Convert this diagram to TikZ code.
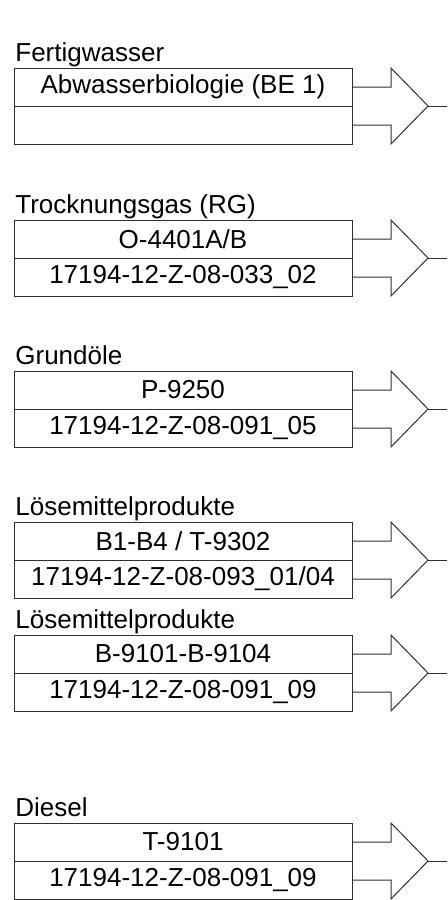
\documentclass[tikz,border=0pt]{standalone}
\usepackage{fontspec}
\setmainfont{Liberation Sans}
\usetikzlibrary{positioning}

\definecolor{linegray}{HTML}{303030}

\tikzset{
  feld/.style={draw=linegray, line width=0.5pt, minimum width=169pt, minimum height=19pt,
    inner sep=0pt, outer sep=0pt, font=\fontsize{13}{15}\selectfont},
  titel/.style={anchor=base west, inner sep=0pt, font=\fontsize{13}{15}\selectfont},
  pfeil/.style={draw=linegray, line width=0.5pt, line join=miter}
}

\begin{document}
\begin{tikzpicture}[x=0.5pt, y=-0.5pt]
   \useasboundingbox (0,0) rectangle (447,900);
   \coordinate (rand) at (447,0);
   % Fertigwasser
   \node [feld, anchor=north west] (ort1) at (14,68) {Abwasserbiologie (BE 1)};
   \node [feld, below=0pt of ort1] (plan1) {};
   \node [titel] (titel1) at ([shift={(1,-7)}]ort1.north west) {Fertigwasser};
   \draw [pfeil] (ort1.east) -- ++(39,0) -- ++(0,-19) -- ++(37,38) coordinate (spitze1)
      -- ++(-37,38) -- ++(0,-19) -- (plan1.east);
   \draw [pfeil] (spitze1) -- (spitze1 -| rand);
   % Trocknungsgas
   \node [feld, anchor=north west] (ort2) at (14,220) {O-4401A/B};
   \node [feld, below=0pt of ort2] (plan2) {17194-12-Z-08-033\_02};
   \node [titel] (titel2) at ([shift={(1,-7)}]ort2.north west) {Trocknungsgas (RG)};
   \draw [pfeil] (ort2.east) -- ++(39,0) -- ++(0,-19) -- ++(37,38) coordinate (spitze2)
      -- ++(-37,38) -- ++(0,-19) -- (plan2.east);
   \draw [pfeil] (spitze2) -- (spitze2 -| rand);
   % Grundoele
   \node [feld, anchor=north west] (ort3) at (14,371) {P-9250};
   \node [feld, below=0pt of ort3] (plan3) {17194-12-Z-08-091\_05};
   \node [titel] (titel3) at ([shift={(1,-7)}]ort3.north west) {Grundöle};
   \draw [pfeil] (ort3.east) -- ++(39,0) -- ++(0,-19) -- ++(37,38) coordinate (spitze3)
      -- ++(-37,38) -- ++(0,-19) -- (plan3.east);
   \draw [pfeil] (spitze3) -- (spitze3 -| rand);
   % Loesemittel 1
   \node [feld, anchor=north west] (ort4) at (14,522) {B1-B4 / T-9302};
   \node [feld, below=0pt of ort4] (plan4) {17194-12-Z-08-093\_01/04};
   \node [titel] (titel4) at ([shift={(1,-7)}]ort4.north west) {Lösemittelprodukte};
   \draw [pfeil] (ort4.east) -- ++(39,0) -- ++(0,-19) -- ++(37,38) coordinate (spitze4)
      -- ++(-37,38) -- ++(0,-19) -- (plan4.east);
   \draw [pfeil] (spitze4) -- (spitze4 -| rand);
   % Loesemittel 2
   \node [feld, anchor=north west] (ort5) at (14,635) {B-9101-B-9104};
   \node [feld, below=0pt of ort5] (plan5) {17194-12-Z-08-091\_09};
   \node [titel] (titel5) at ([shift={(1,-7)}]ort5.north west) {Lösemittelprodukte};
   \draw [pfeil] (ort5.east) -- ++(39,0) -- ++(0,-19) -- ++(37,38) coordinate (spitze5)
      -- ++(-37,38) -- ++(0,-19) -- (plan5.east);
   \draw [pfeil] (spitze5) -- (spitze5 -| rand);
   % Diesel
   \node [feld, anchor=north west] (ort6) at (14,823) {T-9101};
   \node [feld, below=0pt of ort6] (plan6) {17194-12-Z-08-091\_09};
   \node [titel] (titel6) at ([shift={(1,-7)}]ort6.north west) {Diesel};
   \draw [pfeil] (ort6.east) -- ++(39,0) -- ++(0,-19) -- ++(37,38) coordinate (spitze6)
      -- ++(-37,38) -- ++(0,-19) -- (plan6.east);
   \draw [pfeil] (spitze6) -- (spitze6 -| rand);
\end{tikzpicture}
\end{document}
